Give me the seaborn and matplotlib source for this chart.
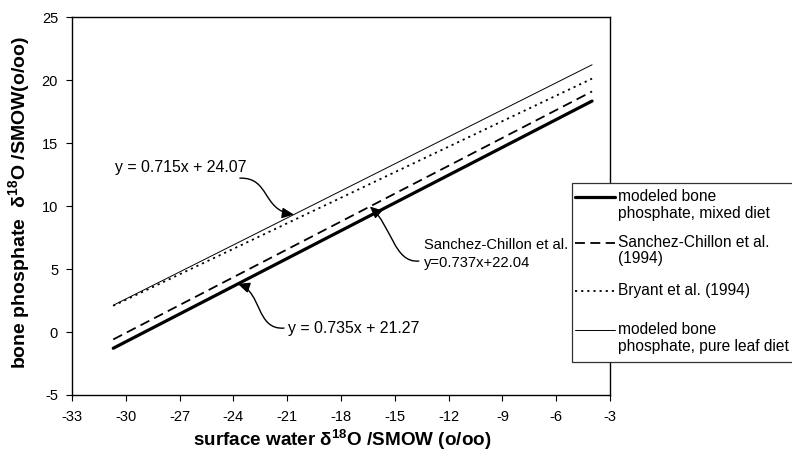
import numpy as np
import pandas as pd
import seaborn as sns
import matplotlib.pyplot as plt
from matplotlib.path import Path
from matplotlib.patches import FancyArrowPatch, Rectangle, ArrowStyle
from matplotlib.lines import Line2D

# Endpoints of each relation between surface water and bone phosphate delta-18O
water = [-30.7, -4.0]
mixed_diet = [-1.29, 18.33]
sanchez_chillon = [-0.59, 19.09]
bryant = [2.08, 20.11]
leaf_diet = [2.12, 21.21]

labels = [
    "modeled bone\nphosphate, mixed diet",
    "Sanchez-Chillon et al.\n(1994)",
    "Bryant et al. (1994)",
    "modeled bone\nphosphate, pure leaf diet",
]
series = [mixed_diet, sanchez_chillon, bryant, leaf_diet]

x_ticks = [-33, -30, -27, -24, -21, -18, -15, -12, -9, -6, -3]
y_ticks = [-5, 0, 5, 10, 15, 20, 25]

eq_leaf = "y = 0.715x + 24.07"
eq_sanchez = "Sanchez-Chillon et al.\ny=0.737x+22.04"
eq_mixed = "y = 0.735x + 21.27"

styles = {
    labels[0]: dict(linewidth=2.3, linestyle="-"),
    labels[1]: dict(linewidth=1.3, linestyle=(0, (5.5, 3.0))),
    labels[2]: dict(linewidth=1.3, linestyle=(0, (1.2, 2.2))),
    labels[3]: dict(linewidth=0.7, linestyle="-"),
}

df = pd.DataFrame(
    [(w, v, lab) for lab, vals in zip(labels, series) for w, v in zip(water, vals)],
    columns=["water", "phosphate", "source"],
)

sns.set_style("ticks")
plt.rcParams["font.family"] = ["Liberation Sans", "DejaVu Sans"]
plt.rcParams["mathtext.fontset"] = "custom"
plt.rcParams["mathtext.rm"] = "Liberation Sans"
plt.rcParams["mathtext.bf"] = "Liberation Sans:bold"
plt.rcParams["mathtext.it"] = "Liberation Sans:italic"
plt.rcParams["text.color"] = "black"
plt.rcParams["axes.labelcolor"] = "black"

W, H = 792, 457
fig = plt.figure(figsize=(W / 100, H / 100), dpi=100)
ax = fig.add_axes([72 / W, 1 - 395 / H, 538 / W, 378 / H])

for lab in labels:
    sns.lineplot(
        data=df[df["source"] == lab], x="water", y="phosphate",
        color="black", ax=ax, legend=False, **styles[lab],
    )

ax.set_xlim(-33, -3)
ax.set_ylim(-5, 25)
ax.set_xticks(x_ticks)
ax.set_yticks(y_ticks)
ax.set_xticklabels([str(t) for t in x_ticks])
ax.set_yticklabels([str(t) for t in y_ticks])
ax.tick_params(axis="both", direction="out", length=4, width=0.8,
               labelsize=10.5, colors="black")
ax.tick_params(axis="x", pad=7)
ax.tick_params(axis="y", pad=6)
for sp in ax.spines.values():
    sp.set_visible(True)
    sp.set_color("black")
    sp.set_linewidth(1.0)

ax.set_xlabel(r"surface water δ$^{\mathbf{18}}$O /SMOW (o/oo)",
              fontsize=13.6, fontweight="bold", color="black")
ax.xaxis.label.set_verticalalignment("center")
ax.xaxis.set_label_coords(0.502, -0.119)
ax.set_ylabel(r"bone phosphate  δ$^{\mathbf{18}}$O /SMOW(o/oo)",
              fontsize=14, fontweight="bold", color="black")
ax.yaxis.label.set_verticalalignment("center")
ax.yaxis.set_label_coords(-0.0985, 0.51)

# Equation annotations
ax.text(-30.6, 13.08, eq_leaf, fontsize=11.4, ha="left", va="center",
        color="black")
ax.text(-13.38, 6.18, eq_sanchez, fontsize=10.6, ha="left", va="center",
        linespacing=1.3, color="black")
ax.text(-20.96, 0.31, eq_mixed, fontsize=11.4, ha="left", va="center",
        color="black")


def curved_arrow(p0, c1, c2, tip_x, line_vals):
    tip = (tip_x, float(np.interp(tip_x, water, line_vals)))
    path = Path([p0, c1, c2, tip],
                [Path.MOVETO, Path.CURVE4, Path.CURVE4, Path.CURVE4])
    arr = FancyArrowPatch(
        path=path,
        arrowstyle=ArrowStyle("-|>", head_length=0.7, head_width=0.32),
        mutation_scale=10, color="black", linewidth=1.0,
        transform=ax.transData,
    )
    ax.add_patch(arr)


curved_arrow((-23.64, 12.21), (-21.96, 12.29), (-22.41, 9.67), -20.63, leaf_diet)
curved_arrow((-13.66, 5.63), (-15.05, 5.47), (-15.16, 8.40), -16.39, sanchez_chillon)
curved_arrow((-21.18, 0.31), (-22.74, 0.15), (-22.41, 3.17), -23.75, mixed_diet)

# Legend box, placed partly over the right frame of the plot
def fx(px):
    return px / W


def fy(py):
    return 1 - py / H


fig.add_artist(Rectangle((fx(572), fy(362)), fx(800) - fx(572), fy(183) - fy(362),
                         transform=fig.transFigure, facecolor="white",
                         edgecolor="#333333", linewidth=0.9, zorder=5,
                         clip_on=False))

entry_y = [197, 243, 291, 330]
for lab, ey in zip(labels, entry_y):
    st = styles[lab]
    fig.add_artist(Line2D([fx(575), fx(615)], [fy(ey), fy(ey)],
                          transform=fig.transFigure, color="black",
                          linewidth=st["linewidth"], linestyle=st["linestyle"],
                          zorder=6))
    for i, part in enumerate(lab.split("\n")):
        fig.text(fx(618), fy(ey + 16 * i), part, fontsize=11.2,
                 ha="left", va="center", zorder=6, color="black")

fig.savefig("out.png", dpi=100, facecolor="white")
